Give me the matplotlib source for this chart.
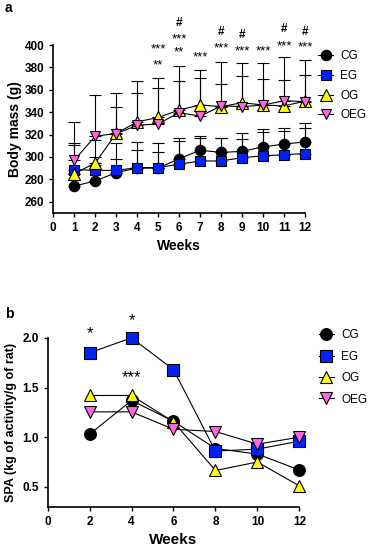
import matplotlib
matplotlib.use("Agg")
import matplotlib.pyplot as plt
import numpy as np

plt.rcParams['font.family'] = ['Liberation Sans', 'DejaVu Sans']

# panel a: body mass per week
weeks_a = [1, 2, 3, 4, 5, 6, 7, 8, 9, 10, 11, 12]
cg_mass = [274, 278.5, 286, 290, 290, 298.5, 306, 304, 305, 309, 311.5, 313.5]
eg_mass = [288.7, 288, 288, 290.5, 290.5, 293.5, 296.4, 296.4, 299.4, 301, 302, 303]
og_mass = [285, 294.6, 321, 331.4, 335.3, 342, 346.5, 345, 348.5, 346.4, 345.6, 350]
oeg_mass = [297, 318.6, 320.9, 328.2, 329.6, 339.6, 336.5, 345.6, 345, 346.4, 350.3, 349.4]
# top of each upper error bar
cg_top = [285, 293, 312.6, 313.5, 312.6, 317, 318.6, 317, 321, 325, 326, 330]
eg_top = [310.5, 300, 298, 306, 304.5, 314, 317, 317, 316, 322, 323, 326]
og_top = [312.6, 315, 345, 357, 362, 368.3, 370.9, 365.6, 372, 370, 369, 373]
oeg_top = [331.4, 355.5, 357.3, 368, 371, 381.6, 377.7, 385, 383.6, 384, 389.6, 387]

# significance marks (week, label, y)
sig_a = [(5, '***', 396.4), (5, '**', 382), (6, '#', 419.7), (6, '***', 405.4), (6, '**', 393.7),
         (7, '***', 389), (8, '#', 411.7), (8, '***', 397.3), (9, '#', 409), (9, '***', 394.6),
         (10, '***', 394.6), (11, '#', 414.3), (11, '***', 399), (12, '#', 411.7), (12, '***', 398.2)]

# panel b: spontaneous physical activity
weeks_b = [2, 4, 6, 8, 10, 12]
cg_spa = [1.03, 1.37, 1.16, 0.886, 0.83, 0.67]
eg_spa = [1.85, 2.0, 1.68, 0.86, 0.88, 0.96]
og_spa = [1.42, 1.42, 1.155, 0.665, 0.75, 0.51]
oeg_spa = [1.255, 1.255, 1.08, 1.057, 0.93, 1.0]
sig_b = [(2, '*', 2.04), (4, '*', 2.17), (4, '***', 1.6)]

groups = ['CG', 'EG', 'OG', 'OEG']
styles = [('o', 'black'), ('s', '#0022ff'), ('^', '#ffff00'), ('v', '#ff66dd')]

fig = plt.figure(figsize=(3.83, 5.5), dpi=100)
ax1 = fig.add_axes([0.139, 0.613, 0.658, 0.305])
ax2 = fig.add_axes([0.1245, 0.0787, 0.657, 0.307])

mass = [cg_mass, eg_mass, og_mass, oeg_mass]
tops = [cg_top, eg_top, og_top, oeg_top]
for i in range(4):
    m = np.array(mass[i])
    up = np.array(tops[i]) - m
    ax1.errorbar(weeks_a, m, yerr=[np.zeros_like(up), up], fmt='none', ecolor='black',
                 elinewidth=0.8, capsize=4, capthick=0.8, clip_on=False, zorder=1)
for i in range(4):
    mk, c = styles[i]
    ax1.plot(weeks_a, mass[i], marker=mk, color='black', mfc=c, mec='black', mew=0.8,
             ms=7.5 if mk != '^' else 8, lw=0.8, label=groups[i], clip_on=False, zorder=3)

for w, s, y in sig_a:
    ax1.text(w, y, s, ha='center', va='center', fontsize=9.5 if s != '#' else 8.5,
             fontweight='bold' if s == '#' else 'normal', clip_on=False)

ax1.set_xlim(0, 12)
ax1.set_ylim(250, 400)
ax1.set_xticks(range(0, 13))
ax1.set_yticks(range(260, 401, 20))
ax1.set_xlabel('Weeks', fontsize=10, fontweight='bold', labelpad=4)
ax1.set_ylabel('Body mass (g)', fontsize=10, fontweight='bold', labelpad=2)
ax1.legend(loc='upper left', bbox_to_anchor=(0.818, 0.917), bbox_transform=fig.transFigure,
           frameon=False, fontsize=8.5, handlelength=1.3, handletextpad=0.6,
           labelspacing=0.65, borderaxespad=0)

spa = [cg_spa, eg_spa, og_spa, oeg_spa]
for i in range(4):
    mk, c = styles[i]
    ax2.plot(weeks_b, spa[i], marker=mk, color='black', mfc=c, mec='black', mew=0.8,
             ms=8.5 if mk != '^' else 9, lw=0.8, label=groups[i], clip_on=False, zorder=3)
for w, s, y in sig_b:
    ax2.text(w, y, s, ha='center', va='center', fontsize=12, clip_on=False)

ax2.set_xlim(0, 12)
ax2.set_ylim(0.3, 2.0)
ax2.set_xticks(range(0, 13, 2))
ax2.set_yticks([0.5, 1.0, 1.5, 2.0])
ax2.set_yticklabels(['0.5', '1.0', '1.5', '2.0'])
ax2.set_xlabel('Weeks', fontsize=11, fontweight='bold', labelpad=4)
ax2.set_ylabel('SPA (kg of activity/g of rat)', fontsize=9, fontweight='bold', labelpad=4)
ax2.legend(loc='upper left', bbox_to_anchor=(0.82, 0.41), bbox_transform=fig.transFigure,
           frameon=False, fontsize=8.5, handlelength=1.3, handletextpad=0.6,
           labelspacing=0.8, borderaxespad=0)

for ax in (ax1, ax2):
    ax.spines['top'].set_visible(False)
    ax.spines['right'].set_visible(False)
    ax.spines['left'].set_linewidth(1.2)
    ax.spines['bottom'].set_linewidth(1.2)
    ax.tick_params(direction='out', length=3, width=1, labelsize=8.5)
    for lab in ax.get_xticklabels() + ax.get_yticklabels():
        lab.set_fontweight('bold')

fig.text(0.012, 0.986, 'a', fontsize=10, fontweight='bold', va='center')
fig.text(0.012, 0.43, 'b', fontsize=10, fontweight='bold', va='center')

fig.savefig('out.png', dpi=100)
